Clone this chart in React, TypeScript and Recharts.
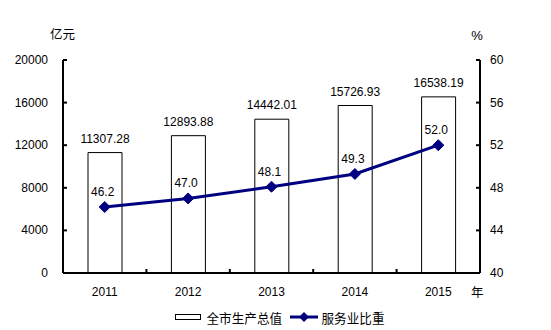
import React from 'react';
import { ComposedChart, Bar, Line, XAxis, YAxis, LabelList, Legend } from 'recharts';

const years = ['2011', '2012', '2013', '2014', '2015'];
const gdpValues = [11307.28, 12893.88, 14442.01, 15726.93, 16538.19];
const serviceRatio = [46.2, 47.0, 48.1, 49.3, 52.0];
const leftTicks = [0, 4000, 8000, 12000, 16000, 20000];
const rightTicks = [40, 44, 48, 52, 56, 60];

const data = years.map((y, i) => ({ year: y, gdp: gdpValues[i], ratio: serviceRatio[i] }));

const NUM_FONT = '"Liberation Sans", Arial, sans-serif';
const CJK_FONT = '"Noto Sans CJK SC", "Noto Sans", sans-serif';
const NAVY = '#000080';
const PLOT_W = 417;

const LeftTick = (props: any) => {
  const { x, y, payload } = props;
  return (
    <g>
      <line x1={x} y1={y} x2={x + 4} y2={y} stroke="#000" strokeWidth={2} />
      <text x={x - 15} y={y} textAnchor="end" dominantBaseline="central" fontSize={12} fontFamily={NUM_FONT} fill="#000">
        {payload.value}
      </text>
    </g>
  );
};

const RightTick = (props: any) => {
  const { x, y, payload } = props;
  return (
    <g>
      <line x1={x - 4} y1={y} x2={x} y2={y} stroke="#000" strokeWidth={2} />
      <text x={x + 10} y={y} textAnchor="start" dominantBaseline="central" fontSize={12} fontFamily={NUM_FONT} fill="#000">
        {payload.value}
      </text>
    </g>
  );
};

const XTick = (props: any) => {
  const { x, y, payload, index } = props;
  const band = PLOT_W / years.length;
  return (
    <g>
      {index < years.length - 1 && (
        <line x1={x + band / 2} y1={y} x2={x + band / 2} y2={y - 4} stroke="#000" strokeWidth={2} />
      )}
      <text x={x} y={y + 19} textAnchor="middle" dominantBaseline="central" fontSize={12} fontFamily={NUM_FONT} fill="#000">
        {payload.value}
      </text>
      {index === years.length - 1 && (
        <text x={x + 39} y={y + 18} textAnchor="middle" dominantBaseline="central" fontSize={12.5} fontFamily={CJK_FONT} fill="#000">
          年
        </text>
      )}
    </g>
  );
};

const BarLabel = (props: any) => {
  const { x, y, width, value } = props;
  return (
    <text x={x + width / 2} y={y - 14} textAnchor="middle" dominantBaseline="central" fontSize={12} fontFamily={NUM_FONT} fill="#000">
      {value}
    </text>
  );
};

const LineLabel = (props: any) => {
  const { x, y, value } = props;
  return (
    <text x={x - 2} y={y - 15} textAnchor="middle" dominantBaseline="central" fontSize={12} fontFamily={NUM_FONT} fill="#000">
      {Number(value).toFixed(1)}
    </text>
  );
};

const Diamond = (props: any) => {
  const { cx, cy } = props;
  if (cx == null || cy == null) return null;
  const s = 5.5;
  return <polygon points={`${cx},${cy - s} ${cx + s},${cy} ${cx},${cy + s} ${cx - s},${cy}`} fill={NAVY} stroke={NAVY} strokeWidth={1} />;
};

const LegendContent = () => (
  <svg width={551} height={20} style={{ display: 'block' }}>
    <rect x={175.5} y={7.5} width={25} height={5} fill="#fff" stroke="#000" strokeWidth={1} />
    <text x={206.5} y={10} dominantBaseline="central" fontSize={12.6} fontFamily={CJK_FONT} fill="#000">全市生产总值</text>
    <line x1={290} y1={10} x2={318} y2={10} stroke={NAVY} strokeWidth={3} />
    <polygon points="304,5 309,10 304,15 299,10" fill={NAVY} />
    <text x={321.5} y={10} dominantBaseline="central" fontSize={12.6} fontFamily={CJK_FONT} fill="#000">服务业比重</text>
  </svg>
);

export default function App() {
  return (
    <div style={{ position: 'absolute', left: 0, top: 0, width: 551, height: 330, background: '#fff' }}>
      <ComposedChart width={551} height={330} data={data} margin={{ top: 60, right: 0, bottom: 0, left: 0 }}>
        <XAxis
          dataKey="year"
          height={57}
          axisLine={{ stroke: '#000', strokeWidth: 2 }}
          tickLine={false}
          tickSize={0}
          tickMargin={0}
          tick={<XTick />}
          interval={0}
        />
        <YAxis
          yAxisId="left"
          orientation="left"
          width={63}
          domain={[0, 20000]}
          ticks={leftTicks}
          axisLine={{ stroke: '#000', strokeWidth: 2 }}
          tickLine={false}
          tickSize={0}
          tickMargin={0}
          tick={<LeftTick />}
          interval={0}
          label={() => (
            <text x={62.5} y={33} textAnchor="middle" dominantBaseline="central" fontSize={12.5} fontFamily={CJK_FONT} fill="#000">亿元</text>
          )}
        />
        <YAxis
          yAxisId="right"
          orientation="right"
          width={71}
          domain={[40, 60]}
          ticks={rightTicks}
          axisLine={{ stroke: '#000', strokeWidth: 2 }}
          tickLine={false}
          tickSize={0}
          tickMargin={0}
          tick={<RightTick />}
          interval={0}
          label={() => (
            <text x={477} y={35} textAnchor="middle" dominantBaseline="central" fontSize={13} fontFamily={NUM_FONT} fill="#000">%</text>
          )}
        />
        <Legend
          verticalAlign="middle"
          align="center"
          layout="horizontal"
          wrapperStyle={{ top: 307, left: 0, width: 551, height: 20 }}
          content={<LegendContent />}
        />
        <Bar yAxisId="left" dataKey="gdp" barSize={34} fill="#fff" stroke="#000" strokeWidth={1} isAnimationActive={false}>
          <LabelList dataKey="gdp" content={<BarLabel />} />
        </Bar>
        <Line
          yAxisId="right"
          dataKey="ratio"
          stroke={NAVY}
          strokeWidth={3}
          dot={<Diamond />}
          activeDot={false}
          isAnimationActive={false}
        >
          <LabelList dataKey="ratio" content={<LineLabel />} />
        </Line>
      </ComposedChart>
    </div>
  );
}
